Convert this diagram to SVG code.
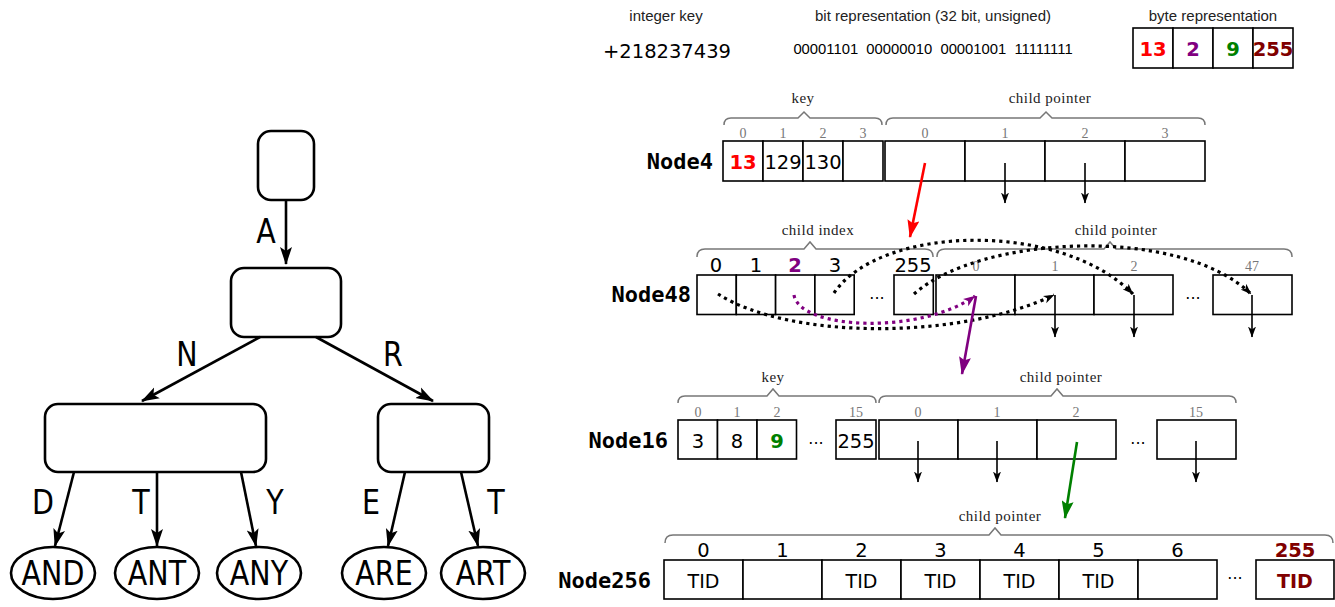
<svg xmlns="http://www.w3.org/2000/svg" width="1335" height="607" viewBox="0 0 1335 607">
<style>
.bg{fill:#fff}
.tn{fill:#fff;stroke:#000;stroke-width:2.6}
.te{stroke:#000;stroke-width:2.6;fill:none}
.tl{font-family:'DejaVu Sans',sans-serif;font-size:34px;fill:#000;text-anchor:middle}
.cell{fill:#fff;stroke:#000;stroke-width:1.6}
.brace{fill:none;stroke:#777;stroke-width:1.5}
.blab{font-family:'Liberation Serif',serif;font-size:15px;letter-spacing:0.5px;fill:#222;text-anchor:middle}
.idx{font-family:'Liberation Serif',serif;font-size:14px;fill:#777;text-anchor:middle}
.bidx{font-family:'DejaVu Sans',sans-serif;font-size:19.5px;fill:#000;text-anchor:middle}
.val{font-family:'DejaVu Sans',sans-serif;font-size:19.5px;fill:#000;text-anchor:middle}
.bold{font-weight:bold}
.nname{font-family:'DejaVu Sans Mono',monospace;font-weight:bold;font-size:22px;fill:#000;text-anchor:end}
.hdr{font-family:'Liberation Sans',Arial,sans-serif;font-size:15px;fill:#222;text-anchor:middle}
.tid{font-family:'DejaVu Sans',sans-serif;font-size:19px;fill:#000;text-anchor:middle}
.ptr{stroke:#000;stroke-width:1.6;fill:none}
.dot{fill:none;stroke:#000;stroke-width:3.2;stroke-dasharray:3.2,4}
.dotp{fill:none;stroke:#800080;stroke-width:3.2;stroke-dasharray:3.2,4}
.dots{font-family:'DejaVu Sans',sans-serif;font-size:16px;fill:#000;text-anchor:middle}
</style>
<defs>
<marker id="mt" markerUnits="userSpaceOnUse" markerWidth="18" markerHeight="14" viewBox="0 0 18 14" refX="17" refY="7" orient="auto"><path d="M0,1 L18,7 L0,13 L4,7 z" fill="#000"/></marker>
<marker id="ms" markerUnits="userSpaceOnUse" markerWidth="11" markerHeight="9" viewBox="0 0 11 9" refX="10.5" refY="4.5" orient="auto"><path d="M0,0.5 L11,4.5 L0,8.5 L3,4.5 z" fill="#000"/></marker>
<marker id="mr" markerUnits="userSpaceOnUse" markerWidth="18" markerHeight="12" viewBox="0 0 18 12" refX="17" refY="6" orient="auto"><path d="M0,0 L18,6 L0,12 L3,6 z" fill="#ff0000"/></marker>
<marker id="mp" markerUnits="userSpaceOnUse" markerWidth="18" markerHeight="12" viewBox="0 0 18 12" refX="17" refY="6" orient="auto"><path d="M0,0 L18,6 L0,12 L3,6 z" fill="#800080"/></marker>
<marker id="mps" markerUnits="userSpaceOnUse" markerWidth="12" markerHeight="10" viewBox="0 0 12 10" refX="11.5" refY="5" orient="auto"><path d="M0,0.5 L12,5 L0,9.5 L3,5 z" fill="#800080"/></marker>
<marker id="mg" markerUnits="userSpaceOnUse" markerWidth="18" markerHeight="12" viewBox="0 0 18 12" refX="17" refY="6" orient="auto"><path d="M0,0 L18,6 L0,12 L3,6 z" fill="#008000"/></marker>
</defs>
<rect class="bg" x="0" y="0" width="1335" height="607"/>

<!-- ===== Left: radix tree ===== -->
<g id="tree-root"><rect class="tn" x="258" y="131" width="56" height="69" rx="13"/></g>
<g id="tree-a"><rect class="tn" x="231" y="268" width="110" height="69" rx="13"/></g>
<g id="tree-an"><rect class="tn" x="45" y="404" width="221" height="68" rx="13"/></g>
<g id="tree-ar"><rect class="tn" x="378" y="404" width="111" height="68" rx="13"/></g>
<g id="leaf-and"><ellipse class="tn" cx="53" cy="573" rx="42" ry="26"/><text class="tl" transform="translate(53,585) scale(0.84,1)">AND</text></g>
<g id="leaf-ant"><ellipse class="tn" cx="157" cy="573" rx="42" ry="26"/><text class="tl" transform="translate(157,585) scale(0.84,1)">ANT</text></g>
<g id="leaf-any"><ellipse class="tn" cx="259" cy="573" rx="42" ry="26"/><text class="tl" transform="translate(259,585) scale(0.84,1)">ANY</text></g>
<g id="leaf-are"><ellipse class="tn" cx="384" cy="573" rx="42" ry="26"/><text class="tl" transform="translate(384,585) scale(0.84,1)">ARE</text></g>
<g id="leaf-art"><ellipse class="tn" cx="483" cy="573" rx="42" ry="26"/><text class="tl" transform="translate(483,585) scale(0.84,1)">ART</text></g>

<g id="tree-edges">
<line class="te" x1="286" y1="200" x2="286" y2="264" marker-end="url(#mt)"/>
<line class="te" x1="260" y1="337" x2="142" y2="401" marker-end="url(#mt)"/>
<line class="te" x1="316" y1="337" x2="433" y2="401" marker-end="url(#mt)"/>
<line class="te" x1="74" y1="472" x2="55" y2="546" marker-end="url(#mt)"/>
<line class="te" x1="157" y1="472" x2="157" y2="546" marker-end="url(#mt)"/>
<line class="te" x1="241" y1="472" x2="256" y2="546" marker-end="url(#mt)"/>
<line class="te" x1="405" y1="472" x2="388" y2="546" marker-end="url(#mt)"/>
<line class="te" x1="461" y1="472" x2="478" y2="546" marker-end="url(#mt)"/>
<text class="tl" transform="translate(266,243) scale(0.84,1)">A</text>
<text class="tl" transform="translate(187,366) scale(0.84,1)">N</text>
<text class="tl" transform="translate(393,366) scale(0.84,1)">R</text>
<text class="tl" transform="translate(43,514) scale(0.84,1)">D</text>
<text class="tl" transform="translate(141,514) scale(0.84,1)">T</text>
<text class="tl" transform="translate(275,514) scale(0.84,1)">Y</text>
<text class="tl" transform="translate(371,514) scale(0.84,1)">E</text>
<text class="tl" transform="translate(496,514) scale(0.84,1)">T</text>
</g>

<!-- ===== Header ===== -->
<g id="header">
<text class="hdr" x="666" y="21">integer key</text>
<text class="hdr" x="933" y="21">bit representation (32 bit, unsigned)</text>
<text class="hdr" x="1213" y="21">byte representation</text>
<text x="667" y="58" style="font-family:'DejaVu Sans',sans-serif;font-size:19.5px;fill:#000;text-anchor:middle">+218237439</text>
<text x="933" y="54" xml:space="preserve" style="font-family:'Liberation Sans',Arial,sans-serif;font-size:14.8px;fill:#000;text-anchor:middle">00001101  00000010  00001001  11111111</text>
</g>
<g id="byte-repr">
<rect class="cell" x="1133" y="28" width="40" height="40"/>
<rect class="cell" x="1173" y="28" width="40" height="40"/>
<rect class="cell" x="1213" y="28" width="40" height="40"/>
<rect class="cell" x="1253" y="28" width="40" height="40"/>
<text class="val bold" x="1153" y="56" style="fill:#ff0000">13</text>
<text class="val bold" x="1193" y="56" style="fill:#800080">2</text>
<text class="val bold" x="1233" y="56" style="fill:#008000">9</text>
<text class="val bold" x="1273" y="56" style="fill:#800000">255</text>
</g>

<!-- ===== Node4 ===== -->
<g id="node4">
<text class="nname" x="713" y="169">Node4</text>
<path class="brace" d="M724,125 Q724,118 731,118 L798,118 L804,112 L810,118 L875,118 Q882,118 882,125"/>
<path class="brace" d="M886,125 Q886,118 893,118 L1040,118 L1046,112 L1052,118 L1198,118 Q1205,118 1205,125"/>
<text class="blab" x="803" y="103">key</text>
<text class="blab" x="1050" y="103">child pointer</text>
<text class="idx" x="743" y="138">0</text><text class="idx" x="783" y="138">1</text><text class="idx" x="823" y="138">2</text><text class="idx" x="863" y="138">3</text>
<text class="idx" x="925" y="138">0</text><text class="idx" x="1005" y="138">1</text><text class="idx" x="1085" y="138">2</text><text class="idx" x="1165" y="138">3</text>
<rect class="cell" x="723" y="141" width="40" height="40"/>
<rect class="cell" x="763" y="141" width="40" height="40"/>
<rect class="cell" x="803" y="141" width="40" height="40"/>
<rect class="cell" x="843" y="141" width="40" height="40"/>
<rect class="cell" x="885" y="141" width="80" height="40"/>
<rect class="cell" x="965" y="141" width="80" height="40"/>
<rect class="cell" x="1045" y="141" width="80" height="40"/>
<rect class="cell" x="1125" y="141" width="80" height="40"/>
<text class="val bold" x="743" y="169" style="fill:#ff0000">13</text>
<text class="val" x="783" y="169">129</text>
<text class="val" x="823" y="169">130</text>
</g>

<!-- ===== Node48 ===== -->
<g id="node48">
<text class="nname" x="691" y="302">Node48</text>
<path class="brace" d="M697,257 Q697,249 705,249 L804,249 L810,242 L816,249 L925,249 Q933,249 933,257"/>
<path class="brace" d="M937,257 Q937,249 945,249 L1104,249 L1110,242 L1116,249 L1284,249 Q1292,249 1292,257"/>
<text class="blab" x="818" y="235">child index</text>
<text class="blab" x="1116" y="235">child pointer</text>
<text class="bidx" x="716" y="272">0</text><text class="bidx" x="756" y="272">1</text><text class="bidx bold" x="795" y="272" style="fill:#800080">2</text><text class="bidx" x="835" y="272">3</text><text class="bidx" x="913" y="272">255</text>
<text class="idx" x="976" y="271">0</text><text class="idx" x="1055" y="271">1</text><text class="idx" x="1134" y="271">2</text><text class="idx" x="1252" y="271">47</text>
<rect class="cell" x="697" y="275" width="39.3" height="39.5"/>
<rect class="cell" x="736.3" y="275" width="39.3" height="39.5"/>
<rect class="cell" x="775.6" y="275" width="39.3" height="39.5"/>
<rect class="cell" x="814.9" y="275" width="39.3" height="39.5"/>
<text class="dots" x="877" y="299">...</text>
<rect class="cell" x="894" y="275" width="39.3" height="39.5"/>
<rect class="cell" x="936" y="275" width="79" height="39.5"/>
<rect class="cell" x="1015" y="275" width="79" height="39.5"/>
<rect class="cell" x="1094" y="275" width="79" height="39.5"/>
<text class="dots" x="1193" y="299">...</text>
<rect class="cell" x="1213" y="275" width="79" height="39.5"/>
</g>

<!-- ===== Node16 ===== -->
<g id="node16">
<text class="nname" x="668" y="448">Node16</text>
<path class="brace" d="M678,403 Q678,396 685,396 L767,396 L773,389 L779,396 L869,396 Q876,396 876,403"/>
<path class="brace" d="M879,403 Q879,396 886,396 L1051,396 L1057,389 L1063,396 L1229,396 Q1236,396 1236,403"/>
<text class="blab" x="773" y="382">key</text>
<text class="blab" x="1061" y="382">child pointer</text>
<text class="idx" x="698" y="417">0</text><text class="idx" x="737" y="417">1</text><text class="idx" x="777" y="417">2</text><text class="idx" x="856" y="417">15</text>
<text class="idx" x="918" y="417">0</text><text class="idx" x="997" y="417">1</text><text class="idx" x="1076" y="417">2</text><text class="idx" x="1196" y="417">15</text>
<rect class="cell" x="678" y="420" width="39.5" height="39"/>
<rect class="cell" x="717.5" y="420" width="39.5" height="39"/>
<rect class="cell" x="757" y="420" width="39.5" height="39"/>
<text class="dots" x="816" y="444">...</text>
<rect class="cell" x="836" y="420" width="40" height="39"/>
<rect class="cell" x="879" y="420" width="79" height="39"/>
<rect class="cell" x="958" y="420" width="79" height="39"/>
<rect class="cell" x="1037" y="420" width="79" height="39"/>
<text class="dots" x="1138" y="444">...</text>
<rect class="cell" x="1157" y="420" width="79" height="39"/>
<text class="val" x="698" y="448">3</text>
<text class="val" x="737" y="448">8</text>
<text class="val bold" x="777" y="448" style="fill:#008000">9</text>
<text class="val" x="856" y="448">255</text>
</g>

<!-- ===== Node256 ===== -->
<g id="node256">
<text class="nname" x="651" y="588">Node256</text>
<path class="brace" d="M665,543 Q665,535 673,535 L989,535 L995,528 L1001,535 L1325,535 Q1333,535 1333,543"/>
<text class="blab" x="1000" y="521">child pointer</text>
<text class="bidx" x="703.5" y="557">0</text><text class="bidx" x="782.5" y="557">1</text><text class="bidx" x="861.5" y="557">2</text><text class="bidx" x="940.5" y="557">3</text><text class="bidx" x="1019.5" y="557">4</text><text class="bidx" x="1098.5" y="557">5</text><text class="bidx" x="1177.5" y="557">6</text><text class="bidx bold" x="1295" y="557" style="fill:#800000">255</text>
<rect class="cell" x="664" y="560" width="79" height="39"/>
<rect class="cell" x="743" y="560" width="79" height="39"/>
<rect class="cell" x="822" y="560" width="79" height="39"/>
<rect class="cell" x="901" y="560" width="79" height="39"/>
<rect class="cell" x="980" y="560" width="79" height="39"/>
<rect class="cell" x="1059" y="560" width="79" height="39"/>
<rect class="cell" x="1138" y="560" width="79" height="39"/>
<text class="dots" x="1235" y="579">...</text>
<rect class="cell" x="1256" y="560" width="78" height="39"/>
<text class="tid" x="703.5" y="588">TID</text>
<text class="tid" x="861.5" y="588">TID</text>
<text class="tid" x="940.5" y="588">TID</text>
<text class="tid" x="1019.5" y="588">TID</text>
<text class="tid" x="1098.5" y="588">TID</text>
<text class="tid bold" x="1295" y="588" style="fill:#800000">TID</text>
</g>

<!-- ===== Connectors ===== -->
<g id="connectors">
<line class="ptr" x1="1005" y1="163" x2="1005" y2="203" marker-end="url(#ms)"/>
<line class="ptr" x1="1085" y1="163" x2="1085" y2="203" marker-end="url(#ms)"/>
<line x1="925" y1="163" x2="910" y2="237" stroke="#ff0000" stroke-width="2.6" marker-end="url(#mr)"/>
<line class="ptr" x1="1055" y1="295" x2="1055" y2="337" marker-end="url(#ms)"/>
<line class="ptr" x1="1134" y1="295" x2="1134" y2="337" marker-end="url(#ms)"/>
<line class="ptr" x1="1252" y1="295" x2="1252" y2="337" marker-end="url(#ms)"/>
<path class="dot" d="M718,294 C790,340 960,340 1054,295" marker-end="url(#ms)"/>
<path class="dot" d="M834,293 C880,225 1060,220 1133,294" marker-end="url(#ms)"/>
<path class="dot" d="M914,294 C980,235 1180,225 1251,294" marker-end="url(#ms)"/>
<path class="dotp" d="M794,295 C800,330 920,335 975,296" marker-end="url(#mps)"/>
<line x1="976" y1="296" x2="962" y2="374" stroke="#800080" stroke-width="2.6" marker-end="url(#mp)"/>
<line class="ptr" x1="918" y1="441" x2="918" y2="482" marker-end="url(#ms)"/>
<line class="ptr" x1="997" y1="441" x2="997" y2="482" marker-end="url(#ms)"/>
<line class="ptr" x1="1196" y1="441" x2="1196" y2="482" marker-end="url(#ms)"/>
<line x1="1077" y1="442" x2="1065" y2="518" stroke="#008000" stroke-width="2.6" marker-end="url(#mg)"/>
</g>
</svg>
